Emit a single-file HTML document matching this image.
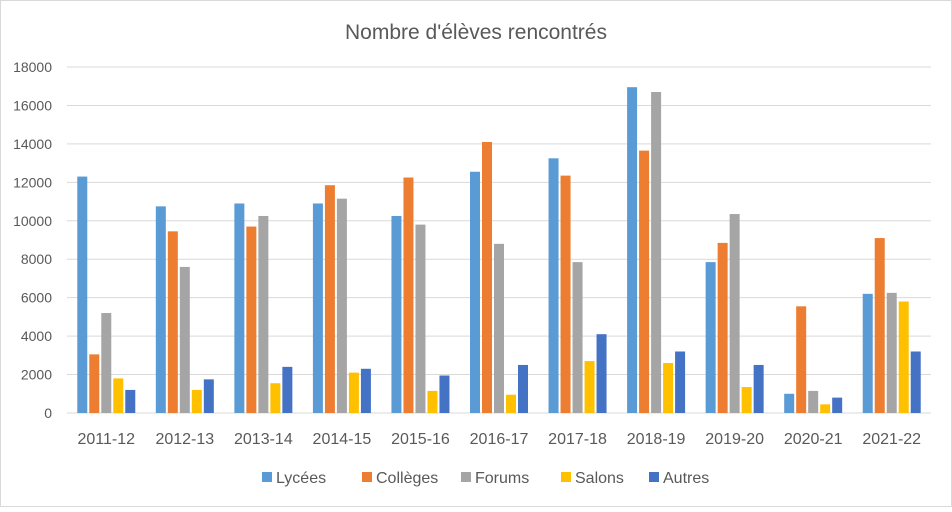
<!DOCTYPE html>
<html><head><meta charset="utf-8"><style>
body{margin:0;background:#fff;font-family:"Liberation Sans",sans-serif}
svg text{font-family:"Liberation Sans",sans-serif}
</style></head><body>
<svg id="c" width="952" height="507">
<rect x="0.5" y="0.5" width="951" height="506" fill="#fff" stroke="#d9d9d9"/>
<text x="476" y="39" text-anchor="middle" font-size="21" fill="#595959">Nombre d'élèves rencontrés</text>
<g id="grid"></g><g id="bars"></g><g id="xl"></g><g id="leg"></g>
</svg>
<script>
const categories=["2011-12","2012-13","2013-14","2014-15","2015-16","2016-17","2017-18","2018-19","2019-20","2020-21","2021-22"];
const seriesNames=["Lycées","Collèges","Forums","Salons","Autres"];
const lycees=[12300,10750,10900,10900,10250,12550,13250,16950,7850,1000,6200];
const colleges=[3050,9450,9700,11850,12250,14100,12350,13650,8850,5550,9100];
const forums=[5200,7600,10250,11150,9800,8800,7850,16700,10350,1150,6250];
const salons=[1800,1200,1550,2100,1150,950,2700,2600,1350,450,5800];
const autres=[1200,1750,2400,2300,1950,2500,4100,3200,2500,800,3200];
const yTicks=[0,2000,4000,6000,8000,10000,12000,14000,16000,18000];
const colors=["#5b9bd5","#ed7d31","#a5a5a5","#ffc000","#4472c4"];
const series=[lycees,colleges,forums,salons,autres];
const NS="http://www.w3.org/2000/svg";
const x0=67,x1=931,yB=413,yT=67,yMax=18000;
const y=v=>yB-(v/yMax)*(yB-yT);
const gw=(x1-x0)/categories.length;
const xc=i=>x0+gw*(i+0.5);
function mk(t,a,p){const e=document.createElementNS(NS,t);for(const k in a)e.setAttribute(k,a[k]);p.appendChild(e);return e;}
const grid=document.getElementById('grid');
yTicks.forEach(t=>{
 const l=mk('line',{x1:x0,x2:x1,y1:y(t),y2:y(t),stroke:'#d9d9d9','stroke-width':1},grid);
 
 
 const tx=mk('text',{x:52,y:y(t)+5,'text-anchor':'end','font-size':14,fill:'#595959'},grid);
 tx.textContent=t;
 
 
});
const bars=document.getElementById('bars'),xl=document.getElementById('xl');
const bw=10,step=12;
categories.forEach((c,i)=>{
 series.forEach((s,j)=>{
  const bx=xc(i)+(j-2)*step-bw/2;
  const r=mk('rect',{x:bx,y:y(s[i]),width:bw,height:yB-y(s[i]),fill:colors[j]},bars);
  
  
 });
 const t=mk('text',{x:xc(i),y:444,'text-anchor':'middle','font-size':16,fill:'#595959'},xl);
 t.textContent=c;
 
 
});
const leg=document.getElementById('leg');
const lx=[262,362,461,561,649];
seriesNames.forEach((n,j)=>{
 const g=mk('g',{},leg);
 
 
 mk('rect',{x:lx[j],y:472,width:10,height:10,fill:colors[j]},g);
 const t=mk('text',{x:lx[j]+14,y:483,'font-size':16,fill:'#595959'},g);
 t.textContent=n;
});
</script>
</body></html>
